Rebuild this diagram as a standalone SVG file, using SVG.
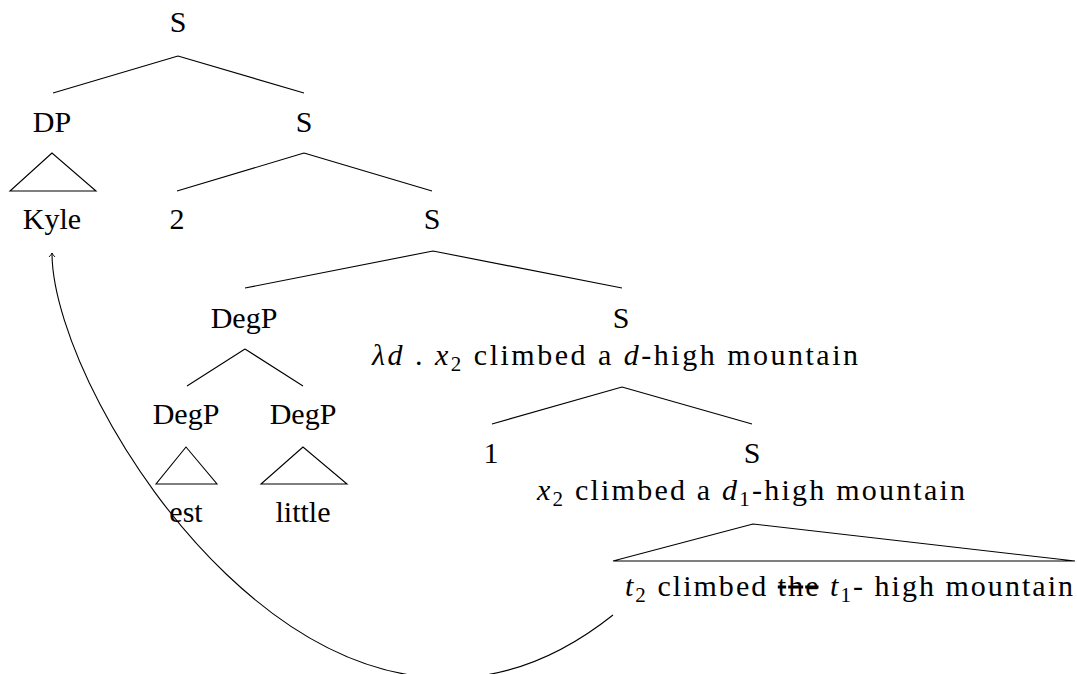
<svg xmlns="http://www.w3.org/2000/svg" width="1077" height="674" viewBox="0 0 1077 674">
<defs>
<style>
text{font-family:"Liberation Serif","Times New Roman",serif;font-size:30px;fill:#000}
.n{text-anchor:middle}
.e{stroke:#000;stroke-width:1.1;fill:none}
.i{font-style:italic}
.sub{font-size:21px}
.s{text-decoration:line-through}
</style>
<marker id="arr" viewBox="-5 -4 6 8" refX="0" refY="0" markerWidth="6" markerHeight="8" markerUnits="userSpaceOnUse" orient="auto">
<path d="M-4,-3 Q-1.5,-0.6 0,0 Q-1.5,0.6 -4,3" fill="none" stroke="#000" stroke-width="0.9"/>
</marker>
</defs>
<rect width="1077" height="674" fill="#fff"/>
<g id="connectors" class="e">
<path d="M178,56 L53,93 M178,56 L304,93"/>
<path d="M304,153 L177,191 M304,153 L432,191"/>
<path d="M433,251 L245,288 M433,251 L622,288"/>
<path d="M245,349 L187,386 M245,349 L303,386"/>
<path d="M622,387 L492,424 M622,387 L752,424"/>
<path d="M613,615 C330,840 52,402 52,253" marker-end="url(#arr)"/>
</g>
<g id="S-root"><text class="n" x="178" y="32">S</text></g>
<g id="DP"><text class="n" x="52" y="132">DP</text><path class="e" d="M52,153 L10,191 L96,191 Z"/><text class="n" x="52" y="229">Kyle</text></g>
<g id="S-1"><text class="n" x="304" y="132">S</text></g>
<g id="idx-2"><text class="n" x="177" y="229">2</text></g>
<g id="S-2"><text class="n" x="432" y="229">S</text></g>
<g id="DegP"><text class="n" x="244" y="328">DegP</text></g>
<g id="S-3"><text class="n" x="621" y="328">S</text>
<text class="n" x="615" y="365" textLength="486" lengthAdjust="spacing"><tspan class="i">λd</tspan> . <tspan class="i">x</tspan><tspan class="sub" dy="6">2</tspan><tspan dy="-6"> climbed a </tspan><tspan class="i">d</tspan>-high mountain</text></g>
<g id="DegP-est"><text class="n" x="186" y="424">DegP</text><path class="e" d="M186,447 L156,484 L217,484 Z"/><text class="n" x="186" y="522">est</text></g>
<g id="DegP-little"><text class="n" x="303" y="424">DegP</text><path class="e" d="M303,447 L261,484 L347,484 Z"/><text class="n" x="303" y="522">little</text></g>
<g id="idx-1"><text class="n" x="491" y="463">1</text></g>
<g id="S-4"><text class="n" x="752" y="463">S</text>
<text class="n" x="751" y="500" textLength="428" lengthAdjust="spacing"><tspan class="i">x</tspan><tspan class="sub" dy="6">2</tspan><tspan dy="-6"> climbed a </tspan><tspan class="i">d</tspan><tspan class="sub" dy="6">1</tspan><tspan dy="-6">-high mountain</tspan></text>
<path class="e" d="M753,524 L613,561 L1075,561 Z"/>
<text x="625" y="596" textLength="448" lengthAdjust="spacing"><tspan class="i">t</tspan><tspan class="sub" dy="6">2</tspan><tspan dy="-6"> climbed </tspan><tspan class="s">the</tspan> <tspan class="i">t</tspan><tspan class="sub" dy="6">1</tspan><tspan dy="-6">- high mountain</tspan></text></g>
</svg>
